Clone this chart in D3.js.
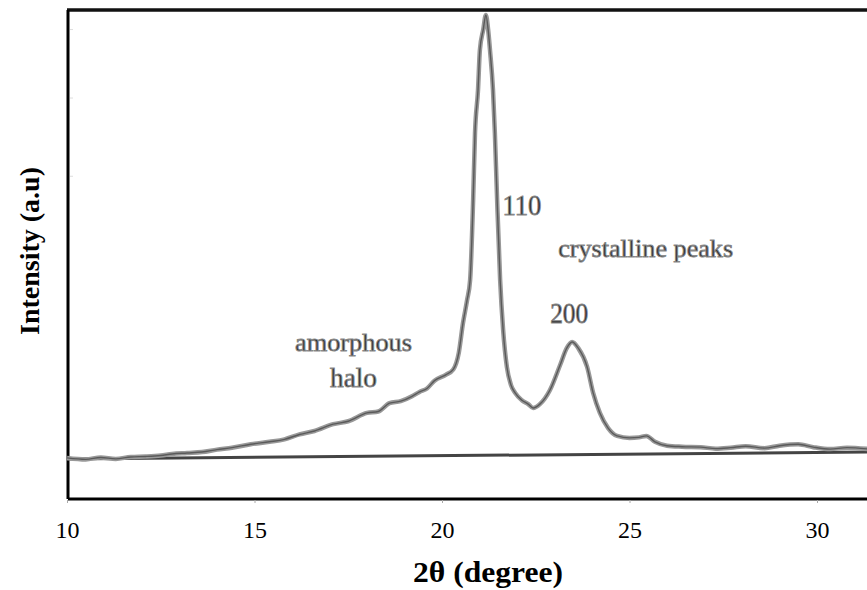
<!DOCTYPE html>
<html>
<head>
<meta charset="utf-8">
<script src="https://cdn.jsdelivr.net/npm/d3@7"></script>
<style>
  body { margin: 0; background: #fff; }
  svg { display: block; }
  text { font-family: "Liberation Serif", "Times New Roman", serif; }
</style>
</head>
<body>
<div id="chart"></div>
<script>
'use strict';

// measured pattern (2θ in degrees, intensity in arbitrary units)
const twoTheta = [
  10.0, 10.5, 10.9, 11.3, 11.7, 12.1, 12.5, 12.8, 13.2, 13.6, 14.0, 14.4,
  14.9, 15.4, 15.8, 16.2, 16.6, 17.1, 17.5, 18.0, 18.3, 18.6, 18.9, 19.2,
  19.4, 19.6, 19.8, 20.1, 20.3, 20.45, 20.56, 20.67, 20.75, 20.83, 20.88,
  20.96, 21.01, 21.1, 21.17, 21.23, 21.28, 21.36, 21.41, 21.47, 21.55,
  21.63, 21.73, 21.84, 21.95, 22.13, 22.3, 22.43, 22.61, 22.88, 23.15,
  23.33, 23.47, 23.63, 23.87, 24.03, 24.21, 24.43, 24.67, 25.0, 25.25,
  25.45, 25.68, 26.0, 26.4, 26.9, 27.3, 27.7, 28.1, 28.6, 29.0, 29.5,
  29.9, 30.35, 30.8, 31.4
];
const intensity = [
  8.4, 8.1, 8.5, 8.2, 8.6, 8.7, 8.9, 9.2, 9.4, 9.6, 10.1, 10.5,
  11.2, 11.7, 12.2, 13.2, 13.9, 15.3, 15.9, 17.6, 17.9, 19.6, 20.0, 21.0,
  21.9, 22.6, 24.2, 25.4, 26.5, 30.0, 36.0, 40.7, 44.8, 61.1, 74.8,
  83.6, 91.8, 96.0, 99.0, 96.0, 91.8, 83.6, 74.8, 61.1, 44.8,
  34.6, 27.0, 23.3, 21.7, 20.2, 19.4, 18.6, 19.4, 22.3, 27.4,
  30.9, 32.1, 30.9, 27.0, 21.7, 17.6, 14.5, 12.9, 12.5, 12.6,
  12.9, 11.7, 10.9, 10.7, 10.6, 10.3, 10.5, 10.8, 10.4, 10.9, 11.2,
  10.6, 10.2, 10.5, 10.2
];

// flat background under the pattern
const baseX = [10, 31.4];
const baseY = [8.2, 9.6];

const xTicks = [10, 15, 20, 25, 30];

const notes = [
  { text: '110', x: 22.13, y: 58.1, w: 39, size: 29 },
  { text: 'crystalline peaks', x: 25.43, y: 49.5, w: 175, size: 26 },
  { text: '200', x: 23.39, y: 36.0, w: 38, size: 29 },
  { text: 'amorphous', x: 17.64, y: 30.3, w: 117, size: 26 },
  { text: 'halo', x: 17.64, y: 22.9, w: 47, size: 27 }
];

const width = 867;
const height = 590;
const margin = { top: 10, bottom: 91, left: 68 };

const $svg = d3.select('#chart').append('svg')
  .attr('width', width)
  .attr('height', height);

const x = d3.scaleLinear()
  .domain([10, 30])
  .range([67, 817]);

const y = d3.scaleLinear()
  .domain([0, 100])
  .range([height - margin.bottom, margin.top]);

const plotRight = width + 20;

// axis frame
const bottomY = y(0);
$svg.append('line')
  .attr('x1', margin.left).attr('x2', plotRight)
  .attr('y1', bottomY).attr('y2', bottomY)
  .attr('stroke', '#000').attr('stroke-width', 3);
$svg.append('line')
  .attr('x1', margin.left - 1).attr('x2', plotRight)
  .attr('y1', margin.top).attr('y2', margin.top)
  .attr('stroke', '#111').attr('stroke-width', 3.5);
$svg.append('line')
  .attr('x1', margin.left).attr('x2', margin.left)
  .attr('y1', margin.top).attr('y2', bottomY)
  .attr('stroke', '#000').attr('stroke-width', 3);

const xAxis = d3.axisBottom(x)
  .tickValues(xTicks)
  .tickSize(3)
  .tickPadding(18);

const $xAxis = $svg.append('g')
  .attr('transform', 'translate(0,' + (bottomY + 1) + ')')
  .call(xAxis);
$xAxis.select('.domain').remove();
$xAxis.selectAll('.tick line').attr('stroke', '#aaa');
$xAxis.selectAll('.tick text')
  .attr('fill', '#000')
  .style('font-family', '"Liberation Serif", serif')
  .style('font-size', '24px');

// faint left ticks
$svg.append('g').selectAll('line')
  .data([96, 82, 66])
  .enter()
  .append('line')
  .attr('x1', margin.left + 2).attr('x2', margin.left + 5)
  .attr('y1', (d) => y(d)).attr('y2', (d) => y(d))
  .attr('stroke', '#ddd');

const line = d3.line()
  .x((d) => x(d[0]))
  .y((d) => y(d[1]))
  .curve(d3.curveMonotoneX);

const baseData = baseX.map((v, i) => [v, baseY[i]]);
$svg.append('path')
  .datum(baseData)
  .attr('d', line)
  .attr('fill', 'none')
  .attr('stroke', '#444')
  .attr('stroke-width', 3);

const pattern = twoTheta.map((v, i) => [v, intensity[i]]);
$svg.append('path')
  .datum(pattern)
  .attr('d', line)
  .attr('fill', 'none')
  .attr('stroke', '#999')
  .attr('stroke-width', 4.5)
  .attr('stroke-linejoin', 'round');
$svg.append('path')
  .datum(pattern)
  .attr('d', line)
  .attr('fill', 'none')
  .attr('stroke', '#5a5a5a')
  .attr('stroke-width', 1.4)
  .attr('stroke-linejoin', 'round');

// annotations
$svg.append('g').selectAll('text')
  .data(notes)
  .enter()
  .append('text')
  .attr('x', (d) => x(d.x))
  .attr('y', (d) => y(d.y))
  .attr('text-anchor', 'middle')
  .attr('textLength', (d) => d.w)
  .attr('lengthAdjust', 'spacingAndGlyphs')
  .attr('fill', '#2e2e2e')
  .attr('stroke', '#888')
  .attr('stroke-width', 0.9)
  .style('font-size', (d) => d.size + 'px')
  .text((d) => d.text);

// axis titles
$svg.append('text')
  .attr('x', 488)
  .attr('y', 582)
  .attr('text-anchor', 'middle')
  .attr('textLength', 150)
  .attr('lengthAdjust', 'spacingAndGlyphs')
  .style('font-size', '30px')
  .style('font-weight', 'bold')
  .text('2θ (degree)');

$svg.append('text')
  .attr('transform', 'translate(39,251) rotate(-90)')
  .attr('text-anchor', 'middle')
  .attr('textLength', 168)
  .attr('lengthAdjust', 'spacingAndGlyphs')
  .style('font-size', '28px')
  .style('font-weight', 'bold')
  .text('Intensity (a.u)');
</script>
</body>
</html>
